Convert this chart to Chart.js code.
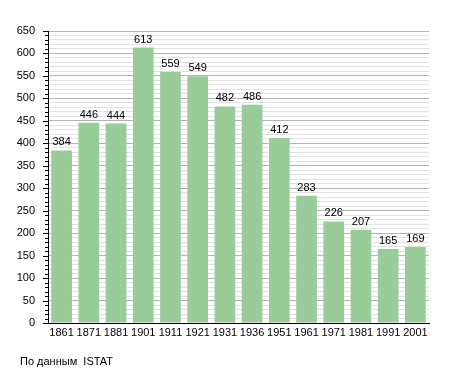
<!DOCTYPE html>
<html>
<head>
<meta charset="utf-8">
<script src="https://cdn.jsdelivr.net/npm/chart.js@4/dist/chart.umd.min.js"></script>
<style>
  html, body { margin: 0; padding: 0; background: #fff; }
  #wrap { position: relative; width: 455px; height: 373px; }
</style>
</head>
<body>
<div id="wrap"><canvas id="chart" width="455" height="373"></canvas></div>
<script>
// anni dei censimenti e popolazione
const years = ["1861", "1871", "1881", "1901", "1911", "1921", "1931", "1936", "1951", "1961", "1971", "1981", "1991", "2001"];
const population = [384, 446, 444, 613, 559, 549, 482, 486, 412, 283, 226, 207, 165, 169];
const yMax = 650;
const footerText = "По данным  ISTAT";

const FONT = "'Liberation Sans', Arial, sans-serif";

// numeri sopra le barre
const valueLabels = {
  id: "valueLabels",
  afterDatasetsDraw(chart) {
    const ctx = chart.ctx;
    const meta = chart.getDatasetMeta(0);
    ctx.save();
    ctx.font = "11px " + FONT;
    ctx.fillStyle = "#000";
    ctx.textAlign = "center";
    ctx.textBaseline = "alphabetic";
    meta.data.forEach((bar, i) => {
      ctx.fillText(String(population[i]), bar.x, bar.y - 5);
    });
    ctx.restore();
  }
};

// tacche sull'asse y: lunghe ogni 50, corte ogni 10
const yTicks = {
  id: "yTicks",
  afterDraw(chart) {
    const ctx = chart.ctx;
    const y = chart.scales.y;
    const left = chart.chartArea.left;
    ctx.save();
    ctx.strokeStyle = "#000";
    ctx.lineWidth = 1;
    for (let v = 0; v <= yMax; v += 10) {
      const py = Math.round(y.getPixelForValue(v)) + 0.5;
      const len = v % 50 === 0 ? 5 : 3;
      ctx.beginPath();
      ctx.moveTo(left - len, py);
      ctx.lineTo(left, py);
      ctx.stroke();
    }
    ctx.restore();
  }
};

// fonte dei dati in basso
const footer = {
  id: "footer",
  afterDraw(chart) {
    const ctx = chart.ctx;
    ctx.save();
    ctx.font = "11px " + FONT;
    ctx.fillStyle = "#000";
    ctx.textAlign = "left";
    ctx.textBaseline = "middle";
    ctx.fillText(footerText, 20, 362);
    ctx.restore();
  }
};

new Chart(document.getElementById("chart"), {
  type: "bar",
  data: {
    labels: years,
    datasets: [{
      data: population,
      backgroundColor: "#99cc99",
      borderWidth: 0,
      barPercentage: 0.76,
      categoryPercentage: 1
    }]
  },
  options: {
    responsive: false,
    animation: false,
    layout: { padding: { left: 0, right: 26, top: 31, bottom: 0 } },
    plugins: {
      legend: { display: false },
      tooltip: { enabled: false }
    },
    scales: {
      x: {
        grid: { display: false, drawTicks: false },
        border: { color: "#000", width: 1 },
        ticks: { color: "#000", font: { family: FONT, size: 11 }, padding: 3, maxRotation: 0, autoSkip: false },
        afterFit(scale) { scale.height = 50; }
      },
      y: {
        min: 0,
        max: yMax,
        grid: {
          drawTicks: false,
          color: (c) => (c.tick && c.tick.value % 50 === 0 ? "#b4b4b4" : "#e2e2e2"),
          lineWidth: 1
        },
        border: { color: "#000", width: 1 },
        ticks: {
          stepSize: 10,
          autoSkip: false,
          padding: 13,
          color: "#000",
          font: { family: FONT, size: 11 },
          callback: (v) => (v % 50 === 0 ? String(v) : "")
        },
        afterFit(scale) { scale.width = 48; }
      }
    }
  },
  plugins: [valueLabels, yTicks, footer]
});
</script>
</body>
</html>
